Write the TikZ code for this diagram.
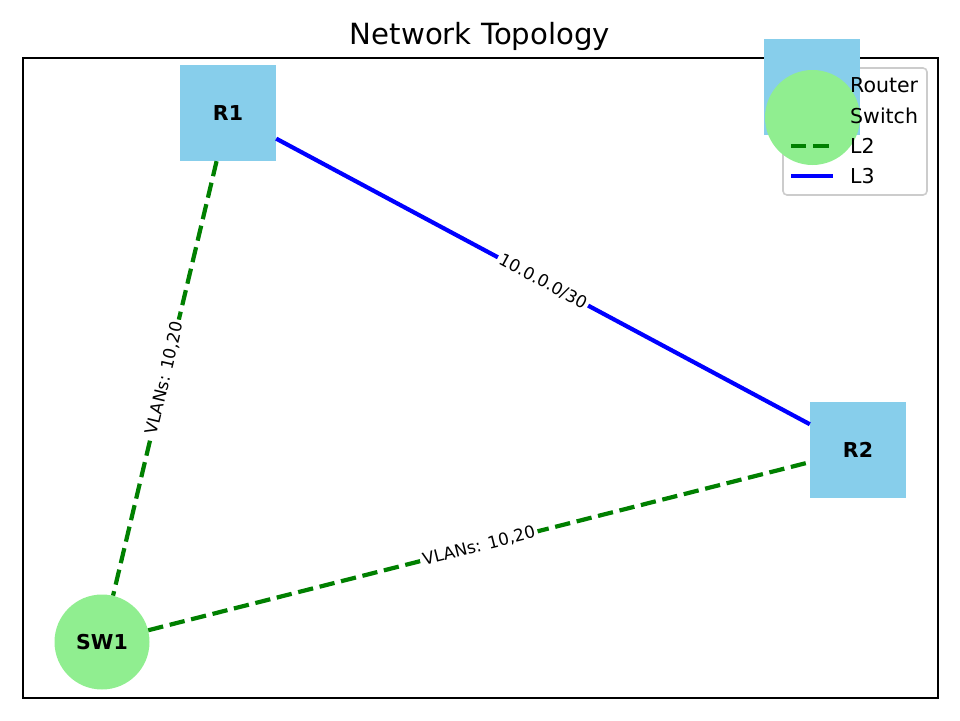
\documentclass[tikz,border=0pt]{standalone}
\usepackage{fontspec}
\setmainfont{DejaVu Sans}
\usepackage{xcolor}
\definecolor{routerblue}{HTML}{87CEEB}
\definecolor{switchgreen}{HTML}{90EE90}
\definecolor{vlangreen}{HTML}{008000}
\definecolor{linkblue}{HTML}{0000FF}
\definecolor{legendedge}{HTML}{CCCCCC}
\tikzstyle{router}=[rectangle, minimum size=96pt, inner sep=0pt, fill=routerblue, font=\fontsize{20.5}{22}\selectfont\bfseries]
\tikzstyle{switch}=[circle, minimum size=95pt, inner sep=0pt, fill=switchgreen, font=\fontsize{20.5}{22}\selectfont\bfseries]
\tikzstyle{ltwo}=[line width=4.2pt, color=vlangreen, dash pattern=on 15.4pt off 6.7pt]
\tikzstyle{lthree}=[line width=4.2pt, color=linkblue]
\tikzstyle{edgelabel}=[midway, sloped, fill=white, inner sep=2.5pt, text=black, font=\fontsize{16.9}{18}\selectfont]
\tikzstyle{legendtext}=[anchor=west, inner sep=0pt, font=\fontsize{20.5}{22}\selectfont]

\begin{document}
\begin{tikzpicture}[x=1pt, y=-1pt]
  \useasboundingbox (0,0) rectangle (960,720);

  %% Title and frame
  \draw (480,36) node[font=\fontsize{29.2}{31}\selectfont] (title) {Network Topology};
  \draw[line width=1.6pt] (23,58) rectangle (938,698);

  %% Devices
  \draw (228,113) node[router] (R1) {R1};
  \draw (858,450) node[router] (R2) {R2};
  \draw (102,642) node[switch] (SW1) {SW1};

  %% Links
  \draw[lthree] (R1) -- (R2) node[edgelabel] {10.0.0.0/30};
  \draw[ltwo] (R1) -- (SW1) node[edgelabel] {VLANs: 10,20};
  \draw[ltwo] (SW1) -- (R2) node[edgelabel] {VLANs: 10,20};

  %% Legend things
  \draw[line width=1.6pt, color=legendedge, fill=white, fill opacity=0.8, rounded corners=4pt] (783,68) rectangle (927,195);
  \fill[routerblue] (764,38.5) rectangle (860,134.5);
  \fill[switchgreen] (812.5,117.5) circle (47.5);
  \coordinate (l2a) at (791,146);
  \coordinate (l2b) at (832.5,146);
  \coordinate (l3a) at (791,176);
  \coordinate (l3b) at (832.5,176);
  \draw[ltwo] (l2a) -- (l2b);
  \draw[lthree] (l3a) -- (l3b);
  \draw (850,85) node[legendtext] (lrouter) {Router};
  \draw (850,116) node[legendtext] (lswitch) {Switch};
  \draw (850,146) node[legendtext] (ltwotext) {L2};
  \draw (850,176) node[legendtext] (lthreetext) {L3};
\end{tikzpicture}
\end{document}
